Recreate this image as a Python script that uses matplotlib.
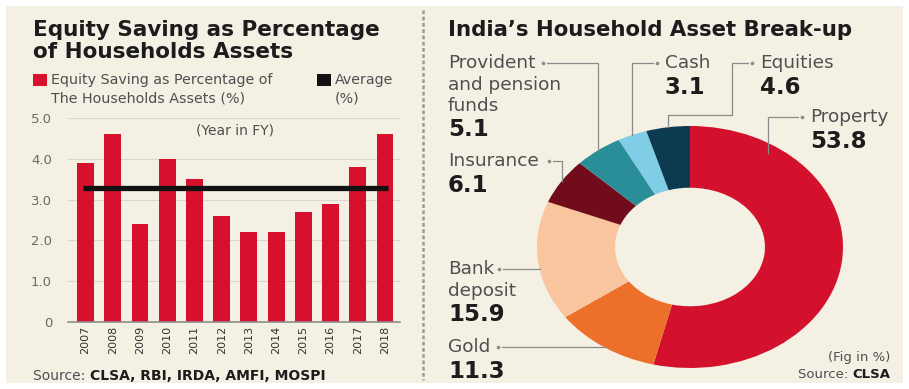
import numpy as np
import matplotlib
matplotlib.use("Agg")
import matplotlib.pyplot as plt
from matplotlib.patches import Rectangle

# ---- data -------------------------------------------------------------
years = ["2007", "2008", "2009", "2010", "2011", "2012",
         "2013", "2014", "2015", "2016", "2017", "2018"]
equity_share = [3.9, 4.6, 2.4, 4.0, 3.5, 2.6, 2.2, 2.2, 2.7, 2.9, 3.8, 4.6]
y_ticks = [0, 1, 2, 3, 4, 5]
y_tick_labels = ["0", "1.0", "2.0", "3.0", "4.0", "5.0"]

asset_names = ["Property", "Gold", "Bank deposit", "Insurance",
               "Provident and pension funds", "Cash", "Equities"]
asset_label_lines = [["Property"], ["Gold"], ["Bank", "deposit"], ["Insurance"],
                     ["Provident", "and pension", "funds"], ["Cash"], ["Equities"]]
asset_share = [53.8, 11.3, 15.9, 6.1, 5.1, 3.1, 4.6]
asset_colors = ["#d3112d", "#ec7029", "#f8c59e", "#710c1c",
                "#2a8e98", "#80cde6", "#0c3b4f"]

# ---- style ------------------------------------------------------------
W, H = 909, 389
BG = "#f4f0e4"
RED = "#d7102d"
DARK = "#1c1c1c"
GREY = "#4f4f4f"
LIGHT = "#6a6a6a"
plt.rcParams["font.family"] = ["DejaVu Sans"]

fig = plt.figure(figsize=(W / 100, H / 100), dpi=100, facecolor="white")


def fx(x):
    return x / W


def fy(y):
    return 1 - y / H


fig.add_artist(Rectangle((fx(6), fy(383)), 897 / W, 377 / H,
                         transform=fig.transFigure, facecolor=BG,
                         edgecolor="none", zorder=-5))

# ---- left: bar chart --------------------------------------------------
ax = fig.add_axes([fx(68), fy(322), (400 - 68) / W, (322 - 118) / H])
ax.set_facecolor("none")
x = np.arange(len(years))
ax.bar(x, equity_share, width=0.62, color=RED, zorder=2)
avg = np.mean(equity_share)
ax.hlines(avg, x[0] - 0.1, x[-1] + 0.1, color="#111111", lw=3.8, zorder=3)
ax.set_xlim(-0.643, len(years) - 1 + 0.55)
ax.set_ylim(0, 5)
ax.set_yticks(y_ticks, y_tick_labels)
ax.set_xticks(x, years, rotation=90)
ax.yaxis.grid(True, color="#d9d5c9", lw=0.8)
ax.set_axisbelow(True)
for side in ["top", "right", "left"]:
    ax.spines[side].set_visible(False)
ax.spines["bottom"].set_color("#8c8c8c")
ax.spines["bottom"].set_linewidth(1.2)
ax.tick_params(axis="y", length=0, pad=11.5, labelsize=9.5, labelcolor=LIGHT)
ax.tick_params(axis="x", length=0, pad=3, labelsize=8, labelcolor="#333333")

# ---- right: donut -----------------------------------------------------
CX, CY, RX, RY = 690, 247, 153, 121
axd = fig.add_axes([fx(CX - RX), fy(CY + RY), 2 * RX / W, 2 * RY / H])
wedges, _ = axd.pie(asset_share, colors=asset_colors, startangle=90,
                    counterclock=False, radius=1,
                    wedgeprops=dict(width=0.51, linewidth=0))
axd.set_aspect("auto")
axd.set_xlim(-1, 1)
axd.set_ylim(-1, 1)
axd.axis("off")

# ---- overlay for text and leaders (pixel coordinates) -----------------
axo = fig.add_axes([0, 0, 1, 1])
axo.set_xlim(0, W)
axo.set_ylim(H, 0)
axo.axis("off")
axo.patch.set_alpha(0)


def d2p(u, v):
    return axo.transData.inverted().transform(axd.transData.transform((u, v)))


def p2d(px, py):
    return axd.transData.inverted().transform(axo.transData.transform((px, py)))


# divider between panels
axo.plot([423, 423], [10, 380], color="#9a9a9a", lw=1.8,
         linestyle=(0, (1.5, 1.0)))

# left titles and legend
axo.text(33, 30, "Equity Saving as Percentage", fontsize=15.5,
         fontweight="bold", color=DARK, va="center", ha="left")
axo.text(33, 52, "of Households Assets", fontsize=15.5,
         fontweight="bold", color=DARK, va="center", ha="left")
axo.add_patch(Rectangle((33, 74), 14, 12, facecolor=RED, edgecolor="none"))
axo.text(51, 80, "Equity Saving as Percentage of", fontsize=10.3,
         color=GREY, va="center")
axo.text(51, 98, "The Households Assets (%)", fontsize=10.3,
         color=GREY, va="center")
axo.add_patch(Rectangle((317, 74), 14, 12, facecolor="#111111", edgecolor="none"))
axo.text(335, 80, "Average", fontsize=10.3, color=GREY, va="center")
axo.text(335, 98, "(%)", fontsize=10.3, color=GREY, va="center")
axo.text(235, 131, "(Year in FY)", fontsize=10, color=GREY,
         va="center", ha="center")
t1 = axo.text(33, 376, "Source: ", fontsize=10, color=GREY, va="center")
axo.annotate("CLSA, RBI, IRDA, AMFI, MOSPI", xy=(1, 0.5), xycoords=t1,
             fontsize=10, fontweight="bold", color=DARK, va="center")

# right title and notes
axo.text(448, 30, "India\u2019s Household Asset Break-up", fontsize=15.3,
         fontweight="bold", color=DARK, va="center", ha="left")
axo.text(890, 357, "(Fig in %)", fontsize=9.5, color=GREY,
         va="center", ha="right")
t2 = axo.text(890, 374, "CLSA", fontsize=9.5, fontweight="bold",
              color=DARK, va="center", ha="right")
axo.annotate("Source: ", xy=(0, 0.5), xycoords=t2, fontsize=9.5,
             color=GREY, va="center", ha="right")

# label blocks: (x, first-line y) in pixels
label_pos = {
    "Property": (810, 117),
    "Gold": (448, 347),
    "Bank deposit": (448, 269),
    "Insurance": (448, 161),
    "Provident and pension funds": (448, 63),
    "Cash": (665, 63),
    "Equities": (760, 63),
}
LINE_GAP = 21.5
for name, lines, val in zip(asset_names, asset_label_lines, asset_share):
    lx, ly = label_pos[name]
    for k, s in enumerate(lines):
        axo.text(lx, ly + k * LINE_GAP, s, fontsize=13.3, color=GREY,
                 va="center", ha="left")
    axo.text(lx, ly + len(lines) * LINE_GAP + 2.5, f"{val:.1f}",
             fontsize=16.5, fontweight="bold", color=DARK,
             va="center", ha="left")

# leader lines from labels to their wedges
LEAD = "#8a8a8a"


def mid_x(i):
    w = wedges[i]
    th = np.deg2rad((w.theta1 + w.theta2) / 2)
    return d2p(np.cos(th), np.sin(th))[0]


def edge_below(px, r=1.0):
    u = p2d(px, 0)[0]
    return d2p(u, np.sqrt(max(r * r - u * u, 0)))


def edge_left(py):
    v = p2d(0, py)[1]
    return d2p(-np.sqrt(max(1 - v * v, 0)), v)


def leader(pts):
    pts = np.asarray(pts, dtype=float)
    axo.plot(pts[:, 0], pts[:, 1], color=LEAD, lw=0.9, solid_joinstyle="miter")
    # small dot between the label and the start of its line
    step = np.sign(pts[1, 0] - pts[0, 0])
    axo.plot(pts[0, 0] - 4 * step, pts[0, 1], "o", ms=1.6, color=LEAD)


idx = {n: i for i, n in enumerate(asset_names)}

# Provident, Cash, Insurance: across then straight down to the wedge
for name, start in [("Provident and pension funds", (547, 63)),
                    ("Cash", (653, 63)),
                    ("Insurance", (553, 161))]:
    mx = mid_x(idx[name])
    end = edge_below(mx)
    leader([start, (mx, start[1]), end])

# Equities: stepped path
mx = mid_x(idx["Equities"])
end = edge_below(mx)
leader([(748, 63), (732, 63), (732, 115), (mx, 115), end])

# Property: across, then down into the ring
end = edge_below(768, r=0.93)
leader([(798, 117), (768, 117), end])

# Bank deposit and Gold: straight across to the ring's edge
for name, start in [("Bank deposit", (503, 269)), ("Gold", (502, 347))]:
    end = edge_left(start[1])
    leader([start, end])

fig.savefig("out.png", dpi=100, facecolor=fig.get_facecolor())
